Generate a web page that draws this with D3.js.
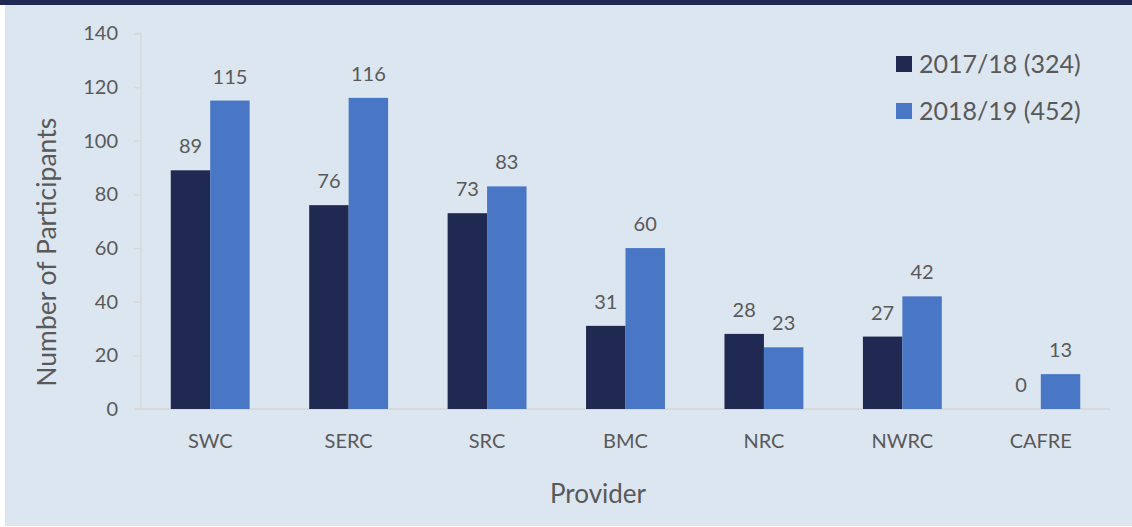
<!DOCTYPE html>
<html>
<head>
<meta charset="utf-8">
<script src="https://cdn.jsdelivr.net/npm/d3@7"></script>
<style>
  body { margin: 0; background: #ffffff; }
  svg { display: block; }
  text { font-family: Lato, "Open Sans", sans-serif; fill: #595959; }
</style>
</head>
<body>
<svg id="chart"></svg>
<script>
var providers = ['SWC', 'SERC', 'SRC', 'BMC', 'NRC', 'NWRC', 'CAFRE'];
var seriesNames = ['2017/18 (324)', '2018/19 (452)'];
var values1718 = [89, 76, 73, 31, 28, 27, 0];
var values1819 = [115, 116, 83, 60, 23, 42, 13];
var yTicks = [0, 20, 40, 60, 80, 100, 120, 140];

var width = 1132, height = 527;
var colors = ['#1f2952', '#4a77c5'];

var svg = d3.select('#chart')
	.attr('width', width)
	.attr('height', height);

// background + top band
svg.append('rect')
	.attr('x', 5).attr('y', 0)
	.attr('width', width - 5).attr('height', height - 1)
	.attr('fill', '#dce6f1');
svg.append('rect')
	.attr('x', 0).attr('y', 0)
	.attr('width', width).attr('height', 5)
	.attr('fill', '#1f2952');

var x0 = 141, x1 = 1110, yTop = 33.5, yBot = 409;

var x = d3.scaleBand()
	.domain(providers)
	.range([x0, x1])
	.paddingInner(0.43)
	.paddingOuter(0.215);

var xs = d3.scaleBand()
	.domain([0, 1])
	.range([0, x.bandwidth()]);

var y = d3.scaleLinear()
	.domain([0, 140])
	.range([yBot, yTop]);

// y axis
var yAxis = svg.append('g')
	.attr('transform', 'translate(' + x0 + ',0)')
	.call(d3.axisLeft(y).tickValues(yTicks).tickSize(7).tickPadding(16));
yAxis.select('.domain').attr('stroke', '#d9d9d9').attr('stroke-width', 1.5)
	.attr('d', 'M-7,' + yTop + 'H0V' + yBot);
yAxis.selectAll('.tick line').attr('stroke', '#d9d9d9').attr('stroke-width', 1.5);
yAxis.selectAll('.tick text')
	.style('font-size', '20px')
	.style('font-family', 'Lato, sans-serif')
	.attr('fill', '#595959');

// x axis baseline
svg.append('line')
	.attr('x1', x0 - 7).attr('x2', x1)
	.attr('y1', yBot).attr('y2', yBot)
	.attr('stroke', '#d9d9d9').attr('stroke-width', 2);

var series = [values1718, values1819];

var groups = svg.append('g').selectAll('g')
	.data(series)
	.enter().append('g')
	.attr('fill', function(d, i) { return colors[i]; });

groups.selectAll('rect')
	.data(function(d, i) { return d.map(function(v, j) { return {v: v, p: providers[j], s: i}; }); })
	.enter().append('rect')
	.attr('x', function(d) { return x(d.p) + xs(d.s); })
	.attr('width', xs.bandwidth())
	.attr('y', function(d) { return y(d.v); })
	.attr('height', function(d) { return yBot - y(d.v); });

groups.selectAll('text')
	.data(function(d, i) { return d.map(function(v, j) { return {v: v, p: providers[j], s: i}; }); })
	.enter().append('text')
	.attr('x', function(d) { return x(d.p) + xs(d.s) + xs.bandwidth() / 2; })
	.attr('y', function(d) { return y(d.v) - 17; })
	.attr('text-anchor', 'middle')
	.style('font-size', '20px')
	.text(function(d) { return d.v; });

// category labels
svg.append('g').selectAll('text')
	.data(providers)
	.enter().append('text')
	.attr('x', function(d) { return x(d) + x.bandwidth() / 2; })
	.attr('y', 448)
	.attr('text-anchor', 'middle')
	.style('font-size', '20px')
	.text(function(d) { return d; });

// axis titles
svg.append('text')
	.attr('x', 598).attr('y', 503)
	.attr('text-anchor', 'middle')
	.style('font-size', '26px')
	.text('Provider');

svg.append('text')
	.attr('transform', 'translate(56,' + ((yTop + yBot) / 2 + 31) + ') rotate(-90)')
	.attr('text-anchor', 'middle')
	.style('font-size', '26.5px')
	.text('Number of Participants');

// legend
var legend = svg.append('g').selectAll('g')
	.data(seriesNames)
	.enter().append('g')
	.attr('transform', function(d, i) { return 'translate(896,' + (56 + i * 47) + ')'; });
legend.append('rect')
	.attr('width', 16).attr('height', 16)
	.attr('fill', function(d, i) { return colors[i]; });
legend.append('text')
	.attr('x', 23).attr('y', 16.5)
	.style('font-size', '25px')
	.text(function(d) { return d; });
</script>
</body>
</html>
